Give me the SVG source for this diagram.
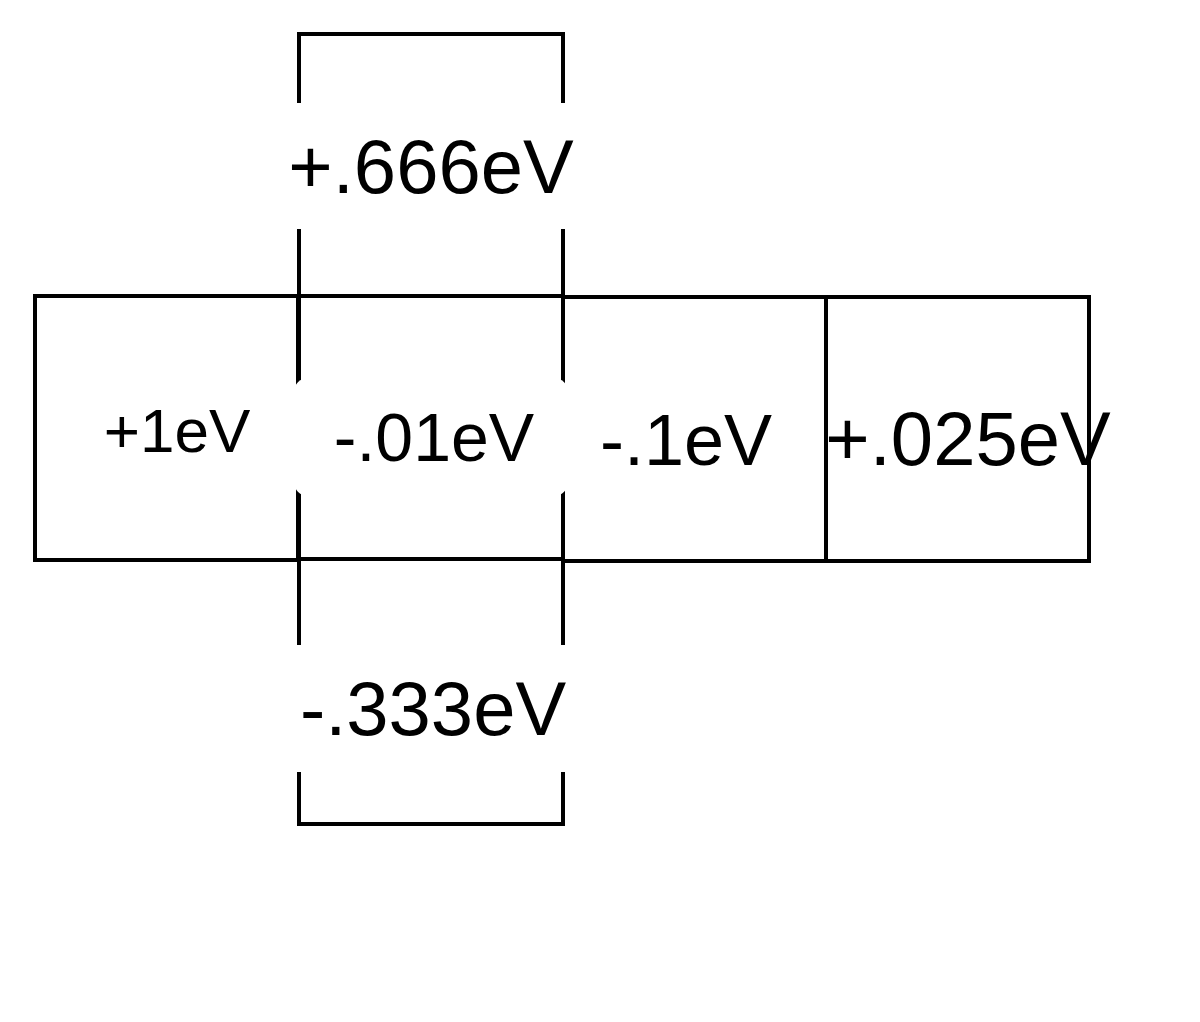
<svg xmlns="http://www.w3.org/2000/svg" width="1200" height="1022" viewBox="0 0 1200 1022">
<style>.l{fill:none;stroke:#000;stroke-width:4}.t{font-family:"Liberation Sans",Arial,sans-serif;fill:#000;text-anchor:middle}</style>
<rect width="1200" height="1022" fill="#fff"/>
<g id="connectors">
<path class="l" d="M299 103V34H563V103M299 229V645M563 229V645M299 772V824H563V772"/>
</g>
<g id="box1"><rect class="l" x="35" y="296" width="263" height="264"/><text class="t" x="177" y="452" font-size="62">+1eV</text></g>
<g id="box3"><rect class="l" x="563" y="297" width="263" height="264"/><text class="t" x="686" y="465" font-size="72">-.1eV</text></g>
<g id="box4"><rect class="l" x="826" y="297" width="263" height="264"/><text class="t" x="968" y="465" font-size="76">+.025eV</text></g>
<g id="box2"><rect class="l" x="299" y="296" width="264" height="263"/><rect x="294" y="378" width="274" height="118" rx="14" fill="#fff"/><text class="t" x="434" y="461" font-size="68">-.01eV</text></g>
<g id="top"><text class="t" x="431" y="193" font-size="76">+.666eV</text></g>
<g id="bottom"><text class="t" x="433" y="735" font-size="76">-.333eV</text></g>
</svg>
